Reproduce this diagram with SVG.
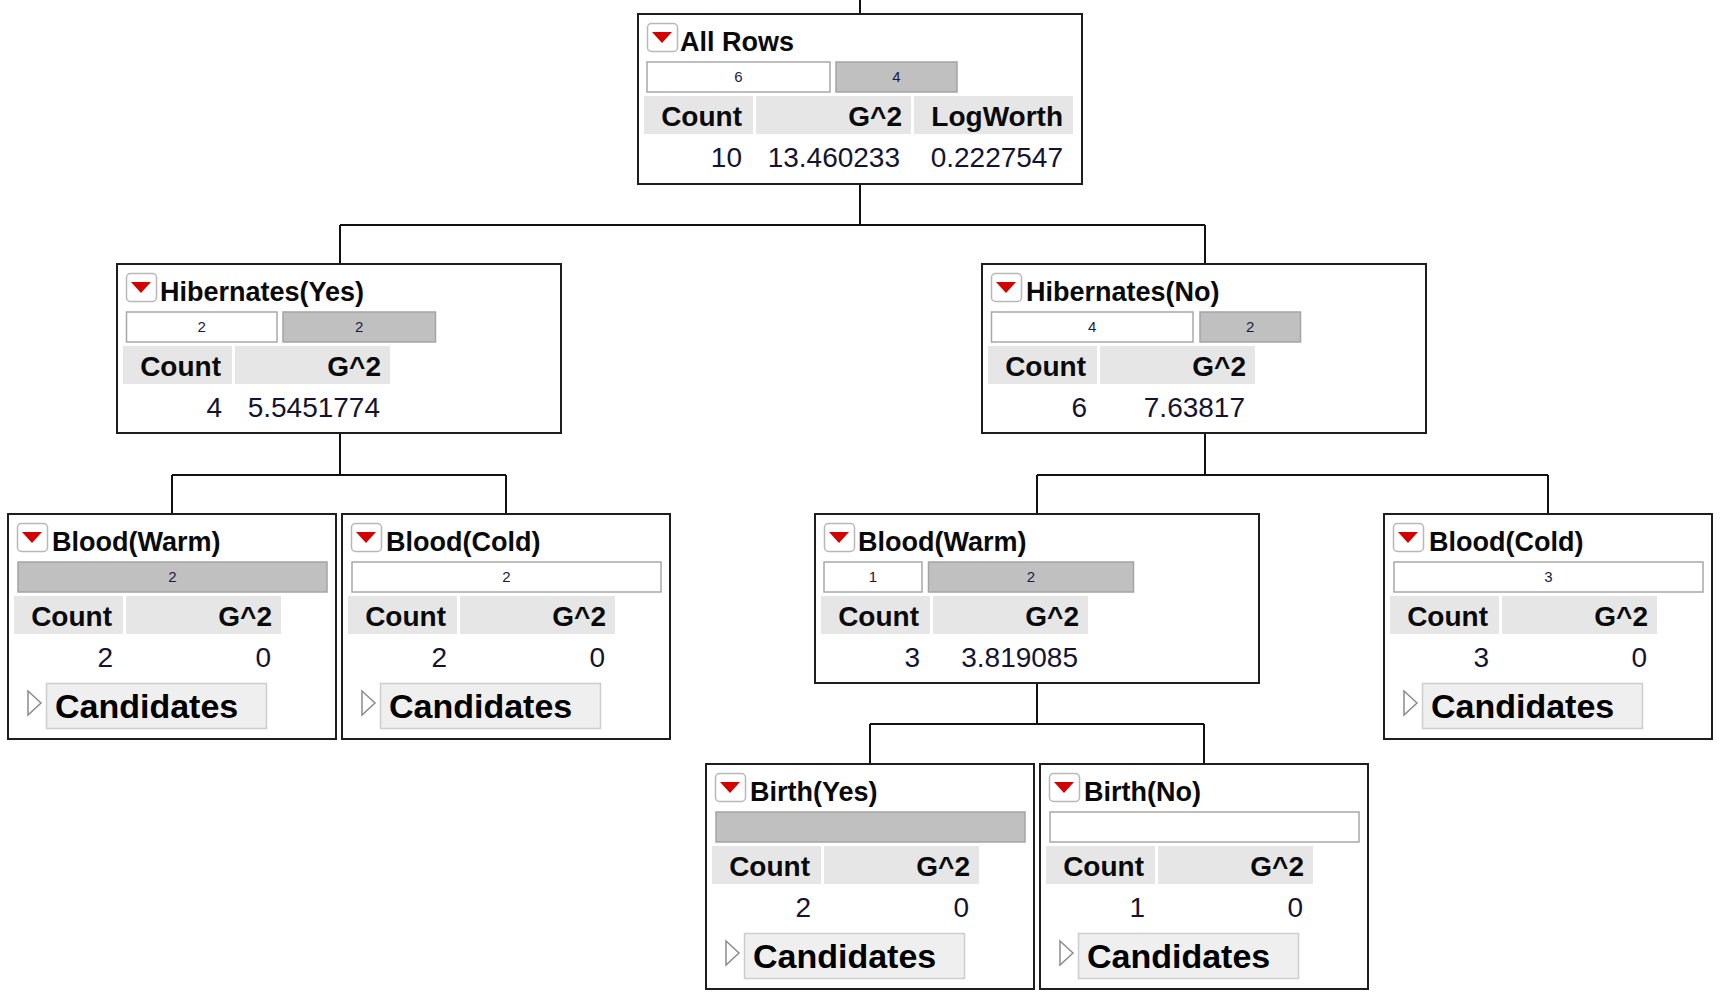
<svg xmlns="http://www.w3.org/2000/svg" width="1724" height="1000" viewBox="0 0 1724 1000">
<defs>
<style>
.box{fill:#fff;stroke:#1e1e1e;stroke-width:2}
.btn{fill:#fff;stroke:#b8b8b8;stroke-width:1.5}
.tri{fill:#d40000}
.title{font-family:"Liberation Sans",Arial,sans-serif;font-weight:bold;font-size:27px;fill:#0a0a0a}
.bw{fill:#fff;stroke:#a8a8a8;stroke-width:1.5}
.bg{fill:#c0c0c0;stroke:#a4a4a4;stroke-width:1.5}
.bl{font-family:"Liberation Sans",Arial,sans-serif;font-size:15px;fill:#1a1a40;text-anchor:middle}
.hc{fill:#e6e6e6}
.hd{font-family:"Liberation Sans",Arial,sans-serif;font-weight:bold;font-size:28px;fill:#0a0a0a;text-anchor:end}
.dt{font-family:"Liberation Sans",Arial,sans-serif;font-size:28px;fill:#141430;text-anchor:end}
.cbox{fill:#efefef;stroke:#cdcdcd;stroke-width:1.5}
.ctri{fill:#fff;stroke:#8c8c8c;stroke-width:1.5}
.cand{font-family:"Liberation Sans",Arial,sans-serif;font-weight:bold;font-size:34px;fill:#000}
.conn{fill:none;stroke:#111;stroke-width:2}
</style>
<g id="btn">
<rect class="btn" x="9.5" y="9.5" width="30" height="28" rx="4"/>
<polygon class="tri" points="14,18 34,18 24,29"/>
</g>
<g id="hdr2">
<rect class="hc" x="6" y="82" width="109" height="38"/>
<rect class="hc" x="118" y="82" width="155" height="38"/>
<text class="hd" x="104" y="112">Count</text>
<text class="hd" x="264" y="112">G^2</text>
</g>
<g id="cand">
<polygon class="ctri" points="20,177 33,189 20,201"/>
<rect class="cbox" x="38.5" y="169.5" width="220" height="45"/>
<text class="cand" x="47" y="204">Candidates</text>
</g>
</defs>

<g id="connectors">
<path class="conn" d="M860,0 V14"/>
<path class="conn" d="M860,184 V225 M340,225 H1205 M340,225 V264 M1205,225 V264"/>
<path class="conn" d="M340,433 V475 M172,475 H506 M172,475 V514 M506,475 V514"/>
<path class="conn" d="M1205,433 V475 M1037,475 H1548 M1037,475 V514 M1548,475 V514"/>
<path class="conn" d="M1037,683 V724 M870,724 H1204 M870,724 V764 M1204,724 V764"/>
</g>

<g id="node-all-rows" transform="translate(638,14)">
<rect class="box" x="0" y="0" width="444" height="170"/>
<use href="#btn"/>
<text class="title" x="42" y="37">All Rows</text>
<rect class="bw" x="9" y="48" width="183" height="30"/>
<rect class="bg" x="198" y="48" width="121" height="30"/>
<text class="bl" x="100.5" y="68">6</text>
<text class="bl" x="258.5" y="68">4</text>
<rect class="hc" x="6" y="82" width="109" height="38"/>
<rect class="hc" x="118" y="82" width="155" height="38"/>
<rect class="hc" x="276" y="82" width="159" height="38"/>
<text class="hd" x="104" y="112">Count</text>
<text class="hd" x="264" y="112">G^2</text>
<text class="hd" x="425" y="112">LogWorth</text>
<text class="dt" x="104" y="153">10</text>
<text class="dt" x="262" y="153">13.460233</text>
<text class="dt" x="425" y="153">0.2227547</text>
</g>

<g id="node-hibernates-yes" transform="translate(117,264)">
<rect class="box" x="0" y="0" width="444" height="169"/>
<use href="#btn"/>
<text class="title" x="43" y="37">Hibernates(Yes)</text>
<rect class="bw" x="9.5" y="48" width="150.5" height="30"/>
<rect class="bg" x="166" y="48" width="152.5" height="30"/>
<text class="bl" x="84.75" y="68">2</text>
<text class="bl" x="242.25" y="68">2</text>
<use href="#hdr2"/>
<text class="dt" x="105" y="153">4</text>
<text class="dt" x="263" y="153">5.5451774</text>
</g>

<g id="node-hibernates-no" transform="translate(982,264)">
<rect class="box" x="0" y="0" width="444" height="169"/>
<use href="#btn"/>
<text class="title" x="44" y="37">Hibernates(No)</text>
<rect class="bw" x="9.5" y="48" width="201.5" height="30"/>
<rect class="bg" x="218" y="48" width="100.5" height="30"/>
<text class="bl" x="110.25" y="68">4</text>
<text class="bl" x="268.25" y="68">2</text>
<use href="#hdr2"/>
<text class="dt" x="105" y="153">6</text>
<text class="dt" x="263" y="153">7.63817</text>
</g>

<g id="node-blood-warm-left" transform="translate(8,514)">
<rect class="box" x="0" y="0" width="328" height="225"/>
<use href="#btn"/>
<text class="title" x="44" y="37">Blood(Warm)</text>
<rect class="bg" x="10" y="48" width="309" height="30"/>
<text class="bl" x="164.5" y="68">2</text>
<use href="#hdr2"/>
<text class="dt" x="105" y="153">2</text>
<text class="dt" x="263" y="153">0</text>
<use href="#cand"/>
</g>

<g id="node-blood-cold-left" transform="translate(342,514)">
<rect class="box" x="0" y="0" width="328" height="225"/>
<use href="#btn"/>
<text class="title" x="44" y="37">Blood(Cold)</text>
<rect class="bw" x="10" y="48" width="309" height="30"/>
<text class="bl" x="164.5" y="68">2</text>
<use href="#hdr2"/>
<text class="dt" x="105" y="153">2</text>
<text class="dt" x="263" y="153">0</text>
<use href="#cand"/>
</g>

<g id="node-blood-warm-right" transform="translate(815,514)">
<rect class="box" x="0" y="0" width="444" height="169"/>
<use href="#btn"/>
<text class="title" x="43" y="37">Blood(Warm)</text>
<rect class="bw" x="9" y="48" width="98" height="30"/>
<rect class="bg" x="113.5" y="48" width="205" height="30"/>
<text class="bl" x="58" y="68">1</text>
<text class="bl" x="216" y="68">2</text>
<use href="#hdr2"/>
<text class="dt" x="105" y="153">3</text>
<text class="dt" x="263" y="153">3.819085</text>
</g>

<g id="node-blood-cold-right" transform="translate(1384,514)">
<rect class="box" x="0" y="0" width="328" height="225"/>
<use href="#btn"/>
<text class="title" x="45" y="37">Blood(Cold)</text>
<rect class="bw" x="10" y="48" width="309" height="30"/>
<text class="bl" x="164.5" y="68">3</text>
<use href="#hdr2"/>
<text class="dt" x="105" y="153">3</text>
<text class="dt" x="263" y="153">0</text>
<use href="#cand"/>
</g>

<g id="node-birth-yes" transform="translate(706,764)">
<rect class="box" x="0" y="0" width="328" height="225"/>
<use href="#btn"/>
<text class="title" x="44" y="37">Birth(Yes)</text>
<rect class="bg" x="10" y="48" width="309" height="30"/>
<use href="#hdr2"/>
<text class="dt" x="105" y="153">2</text>
<text class="dt" x="263" y="153">0</text>
<use href="#cand"/>
</g>

<g id="node-birth-no" transform="translate(1040,764)">
<rect class="box" x="0" y="0" width="328" height="225"/>
<use href="#btn"/>
<text class="title" x="44" y="37">Birth(No)</text>
<rect class="bw" x="10" y="48" width="309" height="30"/>
<use href="#hdr2"/>
<text class="dt" x="105" y="153">1</text>
<text class="dt" x="263" y="153">0</text>
<use href="#cand"/>
</g>
</svg>
